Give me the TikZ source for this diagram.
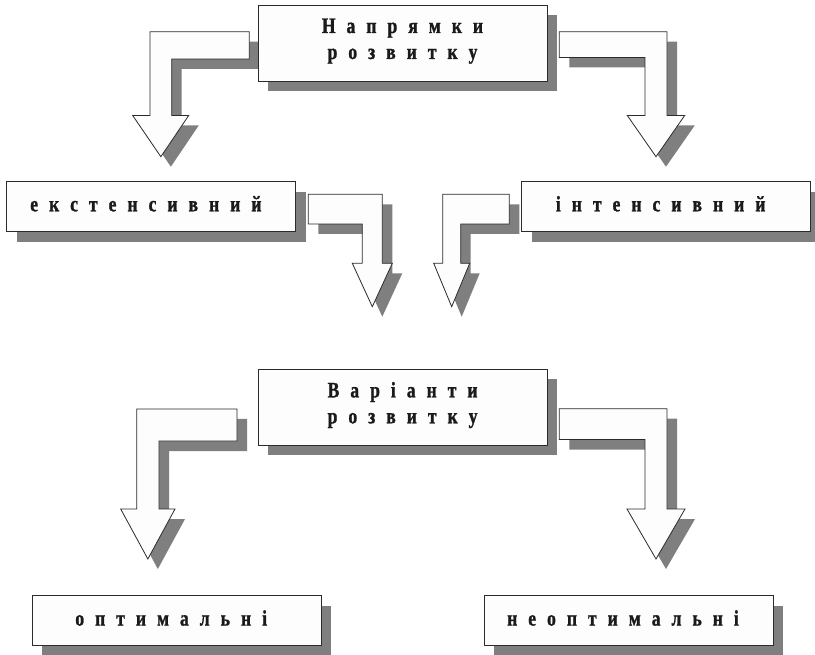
\documentclass[tikz,border=0pt]{standalone}
\usepackage{fontspec}
\setmainfont{Liberation Serif}[FakeStretch=0.8, BoldFeatures={FakeBold=1.2}]
\usetikzlibrary{shadows}

\definecolor{shadowgray}{HTML}{7F7F7F}
\definecolor{boxfill}{HTML}{FDFDFD}
\definecolor{edge}{HTML}{2B2B2B}
\definecolor{ink}{HTML}{1A1A1A}

% letter-spaced labels: every letter is followed by a fixed gap
\newskip\lsp \lsp=11pt
\def\spcloop#1{\ifx\relax#1\else#1\hskip\lsp\relax\expandafter\spcloop\fi}
% one-line label and one line of a two-line label
\newcommand\spaced[1]{\rule[-6pt]{0pt}{21pt}\spcloop#1\relax}
\newcommand\spacedline[1]{\rule[-9pt]{0pt}{24pt}\spcloop#1\relax}

% bent block arrow with a drop shadow
% #1 bar end x, #2 bar top y, #3 bar bottom y, #4 outer shaft x, #5 inner shaft x,
% #6 shaft end y, #7 head corner (outer side), #8 head corner (inner side), #9 tip y
\newcommand\bentarrow[9]{%
  \foreach \sx/\sy/\st in {10/10/arrowshadow, 0/0/arrowbody}{%
    \path[\st, shift={(\sx,\sy)}]
      (#1,#2) -- (#4,#2) -- (#4,#6) -- (#7,#6) -- ({(#4+#5)/2},#9)
      -- (#8,#6) -- (#5,#6) -- (#5,#3) -- (#1,#3) -- cycle;
  }%
}

\tikzset{
  labelbox/.style={draw=edge, fill=boxfill, line width=0.9pt,
    minimum width=289pt, inner sep=0pt, text=ink, align=center,
    font=\bfseries\fontsize{22}{26}\selectfont,
    drop shadow={shadow xshift=10pt, shadow yshift=-10pt,
      opacity=1, fill=shadowgray, draw=none}},
  onebox/.style={labelbox, minimum height=50pt},
  twobox/.style={labelbox, minimum height=76pt},
  arrowshadow/.style={fill=shadowgray, draw=none},
  arrowbody/.style={fill=boxfill, draw=edge, line width=0.8pt, line join=miter},
}

\begin{document}
\begin{tikzpicture}[x=1pt, y=-1pt]
  \clip (0,0) rectangle (815,655);
  \fill[white] (0,0) rectangle (815,655);

  % arrows from the upper box and the arrows of the middle row
  \bentarrow{249.3}{31.7}{59}{150}{171.7}{115.5}{132.7}{188.7}{156.7}
  \bentarrow{559.3}{31.7}{57.5}{667}{645}{115.5}{684.7}{627.3}{156.7}
  \bentarrow{308.3}{194.3}{224}{382.3}{362.3}{263.3}{392.3}{352.3}{306.7}
  \bentarrow{509.3}{194.3}{224}{442.7}{460.7}{263.3}{433.7}{469.7}{306.7}

  % arrows from the lower box
  \bentarrow{237}{409}{441}{136.7}{159}{509}{120.7}{175}{559}
  \bentarrow{559.3}{408.7}{439.5}{667}{645}{509}{685}{627}{559}

  % boxes
  \node[twobox] (napr) at (402.5,43) {\spacedline{Напрямки}\\\spacedline{розвитку}};
  \node[onebox] (ext) at (151.4,206.7) {\spaced{екстенсивний}};
  \node[onebox] (int) at (666.2,206.7) {\spaced{інтенсивний}};
  \node[twobox] (var) at (402.6,407.2) {\spacedline{Варіанти}\\\spacedline{розвитку}};
  \node[onebox] (opt) at (176.7,620.9) {\spaced{оптимальні}};
  \node[onebox] (neopt) at (628.5,620.9) {\spaced{неоптимальні}};
\end{tikzpicture}
\end{document}
